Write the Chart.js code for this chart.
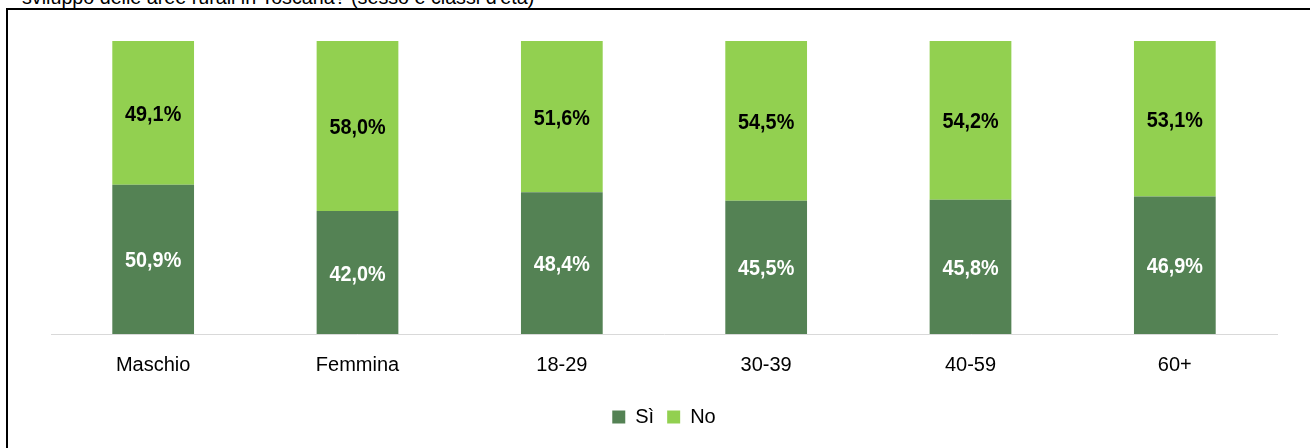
<!DOCTYPE html>
<html>
<head>
<meta charset="utf-8">
<script src="https://cdn.jsdelivr.net/npm/chart.js@4/dist/chart.umd.min.js"></script>
<style>
html,body{margin:0;padding:0;width:1310px;height:448px;overflow:hidden;background:#fff;}
#title{position:absolute;left:22px;top:-14px;font:19.7px "Liberation Sans",Arial,sans-serif;color:#000;white-space:nowrap;}
#frame{position:absolute;left:6px;top:8px;width:1320px;height:460px;border:2px solid #000;box-sizing:border-box;}
#wrap{position:absolute;left:0;top:0;width:1310px;height:448px;}
</style>
</head>
<body>
<div id="title">sviluppo delle aree rurali in Toscana? (sesso e classi d'età)</div>
<div id="frame"></div>
<div id="wrap"><canvas id="c" width="1310" height="448"></canvas></div>
<script>
const categories = ["Maschio","Femmina","18-29","30-39","40-59","60+"];
const seriesNames = ["Sì","No"];
const siValues = [50.9,42.0,48.4,45.5,45.8,46.9];
const noValues = [49.1,58.0,51.6,54.5,54.2,53.1];

const fmt = v => v.toFixed(1).replace('.', ',') + '%';

const labelPlugin = {
  id: 'barLabels',
  afterDatasetsDraw(chart) {
    const ctx = chart.ctx;
    const sx = 0.9;
    chart.data.datasets.forEach((ds, di) => {
      const meta = chart.getDatasetMeta(di);
      meta.data.forEach((bar, i) => {
        const p = bar.getProps(['x','y','base'], true);
        ctx.save();
        ctx.font = 'bold 22px "Liberation Sans",Arial,sans-serif';
        ctx.textAlign = 'center';
        ctx.textBaseline = 'middle';
        ctx.fillStyle = di === 0 ? '#ffffff' : '#000000';
        ctx.translate(p.x, (p.y + p.base) / 2 + 2);
        ctx.scale(sx, 1);
        ctx.fillText(fmt(ds.data[i]), 0, 0);
        ctx.restore();
      });
    });
  }
};

new Chart(document.getElementById('c'), {
  type: 'bar',
  data: {
    labels: categories,
    datasets: [
      {label: seriesNames[0], data: siValues, backgroundColor: '#548254', barPercentage: 0.4, categoryPercentage: 1},
      {label: seriesNames[1], data: noValues, backgroundColor: '#92D050', barPercentage: 0.4, categoryPercentage: 1}
    ]
  },
  options: {
    responsive: false,
    animation: false,
    layout: {padding: {left: 51, right: 33, top: 41, bottom: 11}},
    scales: {
      x: {
        stacked: true,
        grid: {display: false},
        border: {display: true, color: '#d9d9d9', width: 1},
        ticks: {color: '#000', padding: 11, font: {family: '"Liberation Sans",Arial,sans-serif', size: 20}},
        afterFit(scale) { scale.height = 60; }
      },
      y: {stacked: true, display: false, min: 0, max: 100}
    },
    plugins: {
      legend: {
        position: 'bottom',
        labels: {color: '#000', boxWidth: 13, boxHeight: 13, padding: 13,
          font: {family: '"Liberation Sans",Arial,sans-serif', size: 20}}
      },
      tooltip: {enabled: false}
    }
  },
  plugins: [labelPlugin]
});
</script>
</body>
</html>
